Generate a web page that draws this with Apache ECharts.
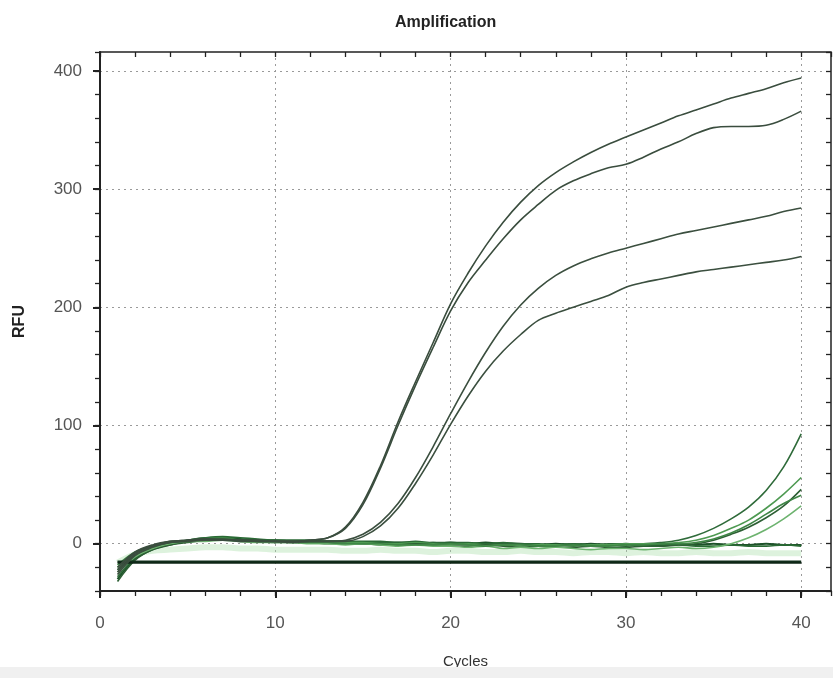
<!DOCTYPE html>
<html>
<head>
<meta charset="utf-8">
<title>Amplification</title>
<script src="https://cdn.jsdelivr.net/npm/echarts@6/dist/echarts.min.js"></script>
<style>
  html, body { margin: 0; padding: 0; background: #ffffff; }
  #chart { width: 833px; height: 678px; }
</style>
</head>
<body>
<div id="chart"></div>
<script>
// PCR cycle numbers
const cycles = [1,2,3,4,5,6,7,8,9,10,11,12,13,14,15,16,17,18,19,20,
                21,22,23,24,25,26,27,28,29,30,31,32,33,34,35,36,37,38,39,40];

// Axis tick labels
const xTickLabels = [0, 10, 20, 30, 40];
const yTickLabels = [0, 100, 200, 300, 400];

// Early amplifying wells (RFU per cycle)
const wellA1 = [-20,-7,-1,2,3,4,3,3,2,2,2,3,5,14,35,66,103,137,170,203,
                229,252,272,289,303,314,323,331,338,344,350,356,362,367,372,377,381,385,390,394];
const wellA2 = [-24,-9,-2,1,3,4,4,3,3,2,2,3,5,13,33,64,100,134,166,197,
                221,240,258,274,287,299,307,313,318,321,327,334,340,347,352,353,353,354,359,366];

// Later amplifying wells
const wellB1 = [-26,-10,-3,1,2,3,3,2,2,2,2,2,2,3,8,18,34,56,82,110,
                137,162,184,202,216,227,235,241,246,250,254,258,262,265,268,271,274,277,281,284];
const wellB2 = [-22,-8,-2,2,3,4,3,3,2,2,1,2,2,2,6,15,30,51,75,101,
                125,146,163,177,189,195,200,205,210,217,221,224,227,230,232,234,236,238,240,243];

// Wells rising only in the last cycles
const wellL1 = [-28,-12,-4,0,3,5,4,3,3,2,2,1,1,1,0,1,0,0,1,0,
                0,-1,0,0,-1,-1,0,-1,0,0,0,1,3,7,13,21,31,45,65,93];
const wellL2 = [-20,-8,-2,1,2,3,4,3,2,2,2,2,1,1,1,0,0,1,0,-1,
                0,-1,-1,-2,-1,-1,-2,-1,-1,0,0,0,1,3,7,13,20,30,42,56];
const wellL3 = [-32,-14,-5,-1,1,3,4,2,2,1,1,1,0,0,0,-1,-1,0,-1,-2,
                -2,-1,-2,-3,-2,-3,-3,-2,-3,-3,-2,-2,-1,0,3,8,14,22,32,46];
const wellL4 = [-24,-11,-4,0,2,2,3,2,1,1,1,0,0,-1,0,-1,-2,-1,-2,-2,
                -3,-2,-4,-3,-4,-3,-4,-5,-4,-4,-5,-4,-3,-4,-3,0,5,12,21,32];
const wellL5 = [-18,-7,-2,1,2,4,5,3,2,2,1,1,1,0,0,0,-1,-1,-1,0,
                -1,-2,-1,-1,-2,-2,-1,-2,-2,-1,-1,0,0,1,4,9,16,25,34,41];

// Non-amplifying wells near the baseline
const wellN1 = [-30,-13,-5,-1,2,4,5,4,3,3,2,2,2,2,1,1,1,1,0,1,
                0,1,0,0,-1,0,-1,0,-1,0,-1,-1,0,-1,0,-1,-1,0,-1,-1];
const wellN2 = [-22,-10,-3,1,3,5,6,5,4,3,3,3,2,2,2,2,1,2,1,1,
                1,0,1,0,0,-1,0,-1,-1,-2,-1,-2,-1,-2,-2,-1,-2,-2,-1,-2];
const wellG1 = [-16,-9,-6,-5,-4,-3,-3,-4,-4,-5,-5,-5,-5,-6,-6,-5,-6,-6,-7,-6,
                -6,-7,-7,-6,-7,-7,-8,-7,-7,-8,-7,-8,-8,-7,-8,-8,-7,-8,-8,-8];

// Flat negative-control traces
const wellF1 = [-15,-15,-15,-15,-15,-15,-15,-15,-15,-15,-15,-15,-15,-15,-15,-15,-15,-15,-15,-15,
                -15,-15,-15,-15,-15,-15,-15,-15,-15,-15,-15,-15,-15,-15,-15,-15,-15,-15,-15,-15];
const wellF2 = [-16,-16,-16,-16,-16,-16,-16,-16,-16,-16,-16,-16,-16,-16,-16,-16,-16,-16,-16,-16,
                -16,-16,-16,-16,-16,-16,-16,-16,-16,-16,-16,-16,-16,-16,-16,-16,-16,-16,-16,-16];

const pairs = vals => cycles.map((c, i) => [c, vals[i]]);

function trace(name, vals, color, width, z) {
  return {
    name: name,
    type: 'line',
    data: pairs(vals),
    showSymbol: false,
    smooth: 0.35,
    silent: true,
    z: z || 2,
    lineStyle: { color: color, width: width }
  };
}

const chart = echarts.init(document.getElementById('chart'), null, { renderer: 'canvas' });

const axisColor = '#222';
const fontFamily = 'Liberation Sans, Arial, sans-serif';
const labelStyle = { fontSize: 17, color: '#555', fontFamily: fontFamily };

// secondary axes only carry tick marks along the frame
function tickAxis(position, min, max, interval, inside) {
  return {
    type: 'value', min: min, max: max, interval: interval, position: position,
    axisLine: { show: false, onZero: false },
    axisTick: { show: true, inside: inside, length: 5, lineStyle: { color: axisColor, width: 1.3 } },
    axisLabel: { show: false },
    splitLine: { show: false }
  };
}

chart.setOption({
  backgroundColor: '#ffffff',
  animation: false,
  title: {
    text: 'Amplification',
    left: 390,
    top: 10,
    textStyle: { fontSize: 16, fontWeight: 'bold', color: '#222', fontFamily: fontFamily }
  },
  grid: {
    left: 100, right: 2, top: 52, bottom: 87,
    show: true, borderColor: axisColor, borderWidth: 1.5, backgroundColor: 'transparent'
  },
  xAxis: [
    {
      type: 'value', min: 0, max: 41.7, position: 'bottom',
      name: 'Cycles', nameLocation: 'middle', nameGap: 63,
      nameTextStyle: { fontSize: 15, color: '#333', fontFamily: fontFamily },
      axisLine: { show: true, onZero: false, lineStyle: { color: axisColor, width: 2 } },
      axisTick: { show: true, customValues: xTickLabels, length: 7, lineStyle: { color: axisColor, width: 2 } },
      axisLabel: Object.assign({ customValues: xTickLabels, margin: 24 }, labelStyle),
      splitLine: { show: true, lineStyle: { color: '#9a9a9a', type: [2, 4], width: 1 } }
    },
    tickAxis('bottom', 0, 41.7, 2, false),
    tickAxis('top', 0, 41.7, 2, true)
  ],
  yAxis: [
    {
      type: 'value', min: -40, max: 416, position: 'left',
      name: 'RFU', nameLocation: 'middle', nameGap: 72, nameRotate: 90,
      nameTextStyle: { fontSize: 16, fontWeight: 'bold', color: '#222', fontFamily: fontFamily },
      axisLine: { show: true, onZero: false, lineStyle: { color: axisColor, width: 2 } },
      axisTick: { show: true, customValues: yTickLabels, length: 7, lineStyle: { color: axisColor, width: 2 } },
      axisLabel: Object.assign({ customValues: yTickLabels, margin: 18 }, labelStyle),
      splitLine: { show: true, lineStyle: { color: '#9a9a9a', type: [2, 4], width: 1 } }
    },
    tickAxis('left', -40, 416, 20, false),
    tickAxis('right', -40, 416, 20, true)
  ],
  graphic: [
    {
      type: 'rect', z: 100, silent: true,
      shape: { x: 0, y: 667, width: 833, height: 11 },
      style: { fill: '#f0f0f0' }
    }
  ],
  series: [
    trace('G1', wellG1, 'rgba(170,222,170,0.4)', 6, 1),
    trace('F1', wellF1, '#12301c', 2, 3),
    trace('F2', wellF2, '#0e2616', 2, 3),
    trace('N1', wellN1, '#1d5229', 2),
    trace('N2', wellN2, '#2a6a35', 1.6),
    trace('L1', wellL1, '#2f6b3a', 1.6),
    trace('L2', wellL2, '#4e9a52', 1.6),
    trace('L3', wellL3, '#2d5f34', 1.6),
    trace('L4', wellL4, '#6db36f', 1.6),
    trace('L5', wellL5, '#3f8646', 1.6),
    trace('B1', wellB1, '#3b4f3f', 1.6, 4),
    trace('B2', wellB2, '#3b4f3f', 1.6, 4),
    trace('A1', wellA1, '#3a4d3e', 1.6, 4),
    trace('A2', wellA2, '#3a4d3e', 1.6, 4)
  ]
});
</script>
</body>
</html>
